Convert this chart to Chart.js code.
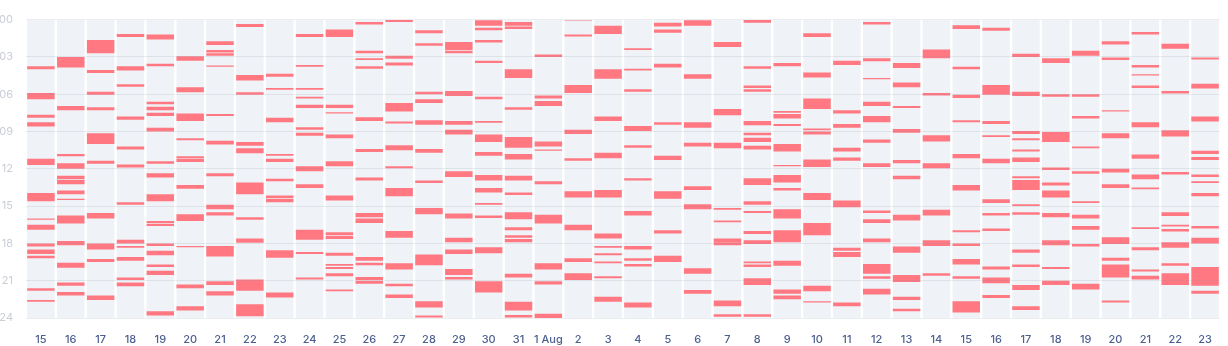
<!DOCTYPE html>
<html>
<head>
<meta charset="utf-8">
<title>Busy hours per day</title>
<script src="https://cdn.jsdelivr.net/npm/chart.js@4.4.1/dist/chart.umd.min.js"></script>
<style>
    html, body { margin: 0; padding: 0; background: #ffffff; }
    #wrap { width: 1228px; height: 346px; }
</style>
</head>
<body>
<div id="wrap"><canvas id="busyChart"></canvas></div>
<script>
/* ==========================================================
   Busy hours per day, 15 Jul - 23 Aug
   Each column is one day, each red block a busy span (hours)
==========================================================*/

const julyDays = ["15", "16", "17", "18", "19", "20", "21", "22", "23", "24",
    "25", "26", "27", "28", "29", "30", "31"];

const augustDays = ["1 Aug", "2", "3", "4", "5", "6", "7", "8", "9", "10",
    "11", "12", "13", "14", "15", "16", "17", "18", "19", "20", "21", "22", "23"];

const hourTicks = ["00", "03", "06", "09", "12", "15", "18", "21", "24"];

// busy spans [start, end] in hours, one list per July day
const julySpans = [
    [[3.75, 4.0], [5.9, 6.4], [7.65, 7.9], [8.25, 8.6], [11.2, 11.7], [13.95, 14.6], [16.0, 16.1], [16.5, 16.9], [18.0, 18.25], [18.5, 18.85], [19.0, 19.2], [21.6, 21.8], [22.55, 22.7]],
    [[3.0, 3.85], [6.95, 7.3], [10.8, 11.0], [11.55, 12.0], [12.55, 12.85], [12.9, 13.25], [13.75, 14.05], [14.4, 14.5], [15.75, 16.4], [17.8, 18.15], [19.55, 19.95], [21.15, 21.4], [21.9, 22.2]],
    [[1.65, 2.7], [4.05, 4.3], [5.8, 6.05], [7.05, 7.3], [9.15, 10.0], [11.35, 11.6], [15.55, 16.0], [18.0, 18.5], [19.25, 19.5], [22.2, 22.55]],
    [[1.15, 1.4], [3.75, 4.1], [5.2, 5.4], [7.8, 8.05], [10.2, 10.45], [11.65, 11.9], [14.7, 14.9], [17.7, 18.0], [18.2, 18.35], [19.1, 19.4], [20.75, 20.95], [21.15, 21.45]],
    [[1.2, 1.6], [3.55, 3.75], [6.6, 6.8], [7.0, 7.3], [7.5, 7.75], [8.7, 9.0], [11.4, 11.6], [12.35, 12.7], [14.05, 14.6], [16.2, 16.35], [16.42, 16.6], [18.0, 18.2], [18.6, 18.95], [19.7, 19.9], [20.2, 20.55], [23.45, 23.8]],
    [[2.95, 3.3], [5.45, 5.85], [7.55, 8.15], [9.55, 9.7], [11.0, 11.15], [11.2, 11.45], [13.3, 13.6], [15.65, 16.2], [18.2, 18.3], [21.3, 21.6], [23.05, 23.4]],
    [[1.75, 2.05], [2.45, 2.65], [2.7, 2.9], [3.7, 3.8], [7.6, 7.75], [9.75, 10.05], [12.35, 12.6], [14.9, 15.25], [15.5, 15.75], [18.2, 19.05], [21.05, 21.35], [21.85, 22.2]],
    [[0.35, 0.6], [4.45, 4.9], [5.85, 6.05], [9.85, 10.15], [10.35, 10.75], [13.1, 14.05], [15.9, 16.1], [17.6, 17.95], [20.9, 21.8], [22.9, 23.85]],
    [[4.35, 4.6], [5.5, 5.65], [7.9, 8.25], [10.8, 10.95], [11.2, 11.45], [12.8, 13.0], [14.15, 14.35], [14.4, 14.7], [18.55, 19.15], [21.95, 22.35]],
    [[1.15, 1.4], [3.65, 3.8], [5.5, 5.65], [6.2, 6.35], [6.85, 7.1], [8.65, 8.85], [9.1, 9.35], [11.8, 12.2], [13.25, 13.55], [16.9, 17.7], [18.7, 18.85], [20.75, 20.9]],
    [[0.8, 1.4], [6.85, 7.1], [7.45, 7.55], [9.25, 9.55], [11.4, 11.8], [14.15, 14.55], [17.1, 17.35], [17.4, 17.65], [18.75, 19.0], [19.65, 19.8], [19.9, 20.05], [20.4, 20.65], [21.7, 21.85]],
    [[0.2, 0.4], [2.5, 2.7], [3.1, 3.25], [3.75, 3.95], [7.85, 8.15], [10.4, 10.65], [12.7, 12.95], [15.55, 15.9], [16.0, 16.35], [19.1, 19.4], [19.55, 19.75], [20.7, 20.95], [21.0, 21.25]],
    [[0.0, 0.2], [2.9, 3.15], [3.45, 3.7], [6.7, 7.4], [8.2, 8.35], [10.1, 10.5], [11.8, 11.95], [13.55, 14.2], [17.0, 17.55], [19.6, 20.1], [21.25, 21.45], [22.1, 22.4]],
    [[0.85, 1.1], [1.9, 2.1], [5.8, 6.0], [6.4, 6.7], [8.1, 8.45], [10.4, 10.7], [12.95, 13.15], [15.15, 15.65], [18.9, 19.75], [22.65, 23.15], [23.8, 23.95]],
    [[1.8, 2.45], [2.5, 2.7], [5.75, 6.15], [8.15, 8.45], [8.85, 9.25], [12.2, 12.65], [15.6, 16.0], [17.55, 17.9], [18.5, 18.85], [20.05, 20.55], [20.7, 20.9]],
    [[0.05, 0.5], [0.65, 0.85], [1.65, 1.85], [3.3, 3.5], [6.2, 6.4], [8.15, 8.3], [9.25, 9.85], [10.65, 10.95], [12.5, 12.95], [13.55, 13.9], [14.75, 14.9], [15.75, 15.95], [18.3, 18.8], [21.05, 21.95]],
    [[0.2, 0.5], [0.55, 0.75], [4.0, 4.7], [7.05, 7.25], [9.45, 10.3], [10.8, 11.25], [12.55, 12.95], [13.9, 14.1], [15.5, 16.05], [16.7, 16.95], [17.35, 17.55], [17.65, 17.9], [20.45, 20.75], [22.7, 23.4], [23.75, 23.95]]
];

// busy spans [start, end] in hours, one list per August day
const augustSpans = [
    [[2.8, 3.0], [6.1, 6.35], [6.55, 6.95], [9.8, 10.2], [10.45, 10.55], [13.0, 13.25], [15.7, 16.4], [19.6, 20.1], [21.05, 21.3], [23.65, 24.0]],
    [[0.0, 0.08], [1.2, 1.35], [5.25, 5.9], [8.85, 9.2], [11.15, 11.35], [13.8, 14.3], [16.5, 16.95], [19.2, 19.5], [20.4, 20.95]],
    [[0.5, 1.15], [4.0, 4.75], [7.8, 8.15], [10.7, 11.15], [13.7, 14.3], [17.2, 17.6], [18.2, 18.35], [18.8, 18.95], [19.45, 19.6], [20.65, 20.8], [22.3, 22.7]],
    [[2.3, 2.45], [3.95, 4.1], [5.6, 5.8], [8.55, 8.95], [10.1, 10.3], [12.75, 12.95], [15.4, 15.75], [18.2, 18.5], [19.2, 19.4], [19.65, 19.85], [22.75, 23.15]],
    [[0.25, 0.55], [0.8, 1.05], [3.55, 3.85], [8.25, 8.45], [10.95, 11.3], [13.8, 14.4], [16.95, 17.2], [19.0, 19.5]],
    [[0.05, 0.5], [4.4, 4.75], [8.25, 8.7], [9.9, 10.2], [13.4, 13.7], [14.85, 15.25], [20.0, 20.45], [21.75, 22.05]],
    [[1.8, 2.2], [7.2, 7.7], [9.9, 10.35], [15.15, 15.3], [16.15, 16.3], [17.6, 17.95], [17.95, 18.15], [22.6, 23.05], [23.7, 23.9]],
    [[0.0, 0.25], [3.75, 3.95], [5.3, 5.5], [5.6, 5.8], [8.15, 8.5], [9.1, 9.3], [9.5, 9.85], [10.15, 10.45], [12.75, 13.3], [14.6, 14.9], [15.4, 15.55], [17.0, 17.25], [17.75, 18.05], [19.45, 19.6], [19.7, 19.9], [20.8, 21.35], [23.7, 23.9]],
    [[3.5, 3.75], [7.35, 7.5], [7.6, 7.95], [8.4, 8.55], [10.0, 10.6], [11.7, 11.8], [12.5, 13.1], [13.55, 13.75], [15.25, 16.0], [16.95, 17.9], [19.4, 19.8], [21.7, 22.05], [22.2, 22.5]],
    [[1.1, 1.4], [4.25, 4.65], [6.35, 7.2], [8.75, 8.9], [9.0, 9.25], [11.25, 11.85], [13.95, 14.5], [16.35, 17.35], [21.4, 21.85], [22.65, 22.75]],
    [[3.3, 3.65], [7.3, 7.55], [8.4, 8.7], [10.3, 10.6], [11.1, 11.35], [14.55, 15.1], [18.35, 18.6], [18.7, 19.1], [22.75, 23.05]],
    [[0.2, 0.4], [3.1, 3.35], [4.7, 4.8], [6.6, 6.95], [7.75, 8.25], [9.65, 9.9], [11.55, 11.85], [15.35, 15.55], [16.05, 16.35], [17.6, 17.9], [19.65, 20.45], [20.65, 20.85], [21.65, 22.1]],
    [[3.5, 3.9], [5.05, 5.45], [6.95, 7.1], [8.8, 9.1], [11.3, 11.55], [12.55, 12.85], [15.7, 16.15], [18.25, 18.75], [20.55, 21.1], [22.3, 22.55], [23.25, 23.45]],
    [[2.4, 3.1], [5.9, 6.1], [9.3, 9.8], [11.55, 11.95], [15.3, 15.75], [17.75, 18.2], [20.4, 20.6]],
    [[0.45, 0.75], [3.8, 4.0], [6.05, 6.3], [8.1, 8.25], [10.8, 11.15], [13.3, 13.75], [16.95, 17.1], [18.0, 18.2], [19.25, 19.7], [20.65, 20.85], [22.65, 23.55]],
    [[0.65, 0.9], [5.25, 6.05], [8.15, 8.4], [9.3, 9.45], [11.2, 11.55], [14.45, 14.75], [15.55, 15.75], [16.8, 17.0], [19.85, 20.1], [20.75, 21.2], [22.15, 22.4]],
    [[2.75, 3.0], [5.8, 6.15], [8.95, 9.2], [9.55, 9.7], [10.45, 10.6], [11.1, 11.45], [12.6, 12.75], [12.9, 13.7], [14.85, 15.0], [15.5, 15.7], [18.5, 18.75], [19.7, 19.9], [21.35, 21.75], [23.05, 23.35]],
    [[3.1, 3.5], [6.0, 6.2], [9.05, 9.85], [11.9, 12.1], [13.1, 13.35], [13.75, 14.3], [15.55, 15.9], [17.75, 18.15], [19.9, 20.05], [21.0, 21.35]],
    [[2.5, 2.9], [6.0, 6.2], [7.75, 7.95], [10.2, 10.35], [12.2, 12.4], [14.6, 14.75], [15.7, 16.0], [16.6, 16.9], [18.05, 18.25], [21.25, 21.7]],
    [[1.75, 2.0], [3.05, 3.25], [7.3, 7.4], [9.15, 9.55], [12.0, 12.3], [13.25, 13.55], [17.5, 18.05], [19.15, 19.4], [19.7, 20.75], [22.6, 22.75]],
    [[1.0, 1.2], [3.65, 3.85], [4.4, 4.5], [5.3, 5.5], [8.25, 8.65], [10.85, 11.2], [12.45, 12.85], [13.5, 13.65], [16.7, 16.85], [18.3, 18.55], [20.1, 20.25], [20.6, 20.9]],
    [[1.95, 2.35], [5.75, 5.95], [8.9, 9.4], [12.25, 12.45], [15.5, 15.8], [16.5, 16.65], [16.85, 17.05], [17.9, 18.35], [19.6, 19.8], [20.4, 21.35]],
    [[3.05, 3.2], [5.15, 5.55], [7.8, 8.2], [10.55, 10.8], [11.05, 11.3], [12.45, 12.65], [13.0, 13.15], [13.95, 14.2], [16.6, 16.8], [17.55, 18.0], [19.9, 21.4], [21.8, 22.05]]
];

const BusyChart = {

    chart: null,

    init() {

        const canvas = document.getElementById("busyChart");

        if (!canvas) return;

        // day numbers repeat across the two months, so key the
        // categories uniquely and show the short label on the axis
        const tickLabels = [...julyDays, ...augustDays];

        const keys = [
            ...julyDays.map(d => "Jul-" + d),
            ...augustDays.map((d, i) => "Aug-" + (i + 1))
        ];

        const spans = [...julySpans, ...augustSpans];

        // flatten into one floating bar per span
        const busyData = [];

        spans.forEach((daySpans, i) => {
            daySpans.forEach(span => {
                busyData.push({ x: keys[i], y: span });
            });
        });

        // full-day column behind each day
        const dayData = keys.map(key => ({ x: key, y: [0, 24] }));

        this.chart = new Chart(canvas.getContext("2d"), {

            type: "bar",

            data: {
                labels: keys,
                datasets: [
                    {
                        label: "Busy",
                        data: busyData,
                        backgroundColor: "#ff7882",
                        order: 1
                    },
                    {
                        label: "Day",
                        data: dayData,
                        backgroundColor: "#eff2f6",
                        order: 2
                    }
                ]
            },

            options: {
                responsive: true,
                maintainAspectRatio: false,
                animation: false,
                events: [],
                layout: {
                    padding: { top: 9, right: 8, left: 0, bottom: 0 }
                },
                datasets: {
                    bar: {
                        grouped: false,
                        categoryPercentage: 1,
                        barPercentage: 0.92,
                        borderWidth: 0
                    }
                },
                plugins: {
                    legend: { display: false },
                    tooltip: { enabled: false }
                },
                scales: {
                    x: {
                        grid: { display: false },
                        border: { display: false },
                        ticks: {
                            color: "#4d5f8f",
                            padding: 7,
                            maxRotation: 0,
                            autoSkip: false,
                            font: { family: "Inter", size: 11, weight: 500 },
                            callback: (value, index) => tickLabels[index]
                        },
                        afterFit(scale) { scale.height = 28; }
                    },
                    y: {
                        min: 0,
                        max: 24,
                        reverse: true,
                        border: { display: false },
                        grid: {
                            color: "rgba(130, 140, 160, 0.16)",
                            drawTicks: false,
                            z: 1
                        },
                        ticks: {
                            stepSize: 3,
                            padding: 13,
                            color: "#c9cdd6",
                            font: { family: "Inter", size: 11 },
                            callback: value => hourTicks[value / 3]
                        },
                        afterFit(scale) { scale.width = 26; }
                    }
                }
            }
        });

    }

};

BusyChart.init();
</script>
</body>
</html>
